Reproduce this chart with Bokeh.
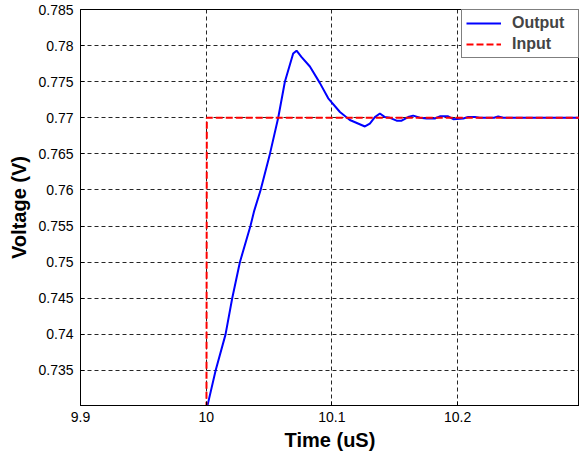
from bokeh.plotting import figure
from bokeh.models import Range1d, FixedTicker, Legend, LegendItem
from bokeh.embed import file_html
from bokeh.resources import INLINE

# Output (blue) trace
out_t = [10.0, 10.0011, 10.0075, 10.0154, 10.0207, 10.0268, 10.0352, 10.0380, 10.0433,
         10.0507, 10.0573, 10.0626, 10.0692, 10.0719, 10.0759,
         10.0825, 10.0905, 10.0971, 10.1064, 10.1143, 10.1263, 10.1302, 10.1342, 10.1382,
         10.1422, 10.1462, 10.1515, 10.1555, 10.1607, 10.1647, 10.1700, 10.1753, 10.1819,
         10.1859, 10.1925, 10.1966, 10.2045, 10.2084, 10.2138, 10.2177, 10.2290, 10.2323,
         10.2363, 10.2500, 10.3000]
out_v = [0.7293, 0.7302, 0.7350, 0.7400, 0.7450, 0.7500, 0.7550, 0.7570, 0.7600,
         0.7650, 0.7700, 0.7750, 0.7789, 0.7793, 0.7784,
         0.7771, 0.7748, 0.7727, 0.7708, 0.7697, 0.7688, 0.7692, 0.7701, 0.7706,
         0.7701, 0.7700, 0.7696, 0.7696, 0.7701, 0.7703, 0.7700, 0.7699, 0.7699,
         0.7702, 0.7702, 0.7698, 0.7699, 0.7701, 0.7701, 0.7700, 0.7700, 0.7702,
         0.7700, 0.7700, 0.7700]

# Input (red dashed) step
in_t = [9.9, 10.0, 10.0005, 10.3]
in_v = [0.70, 0.70, 0.77, 0.77]

x_ticks = [9.9, 10.0, 10.1, 10.2]
x_labels = ["9.9", "10", "10.1", "10.2"]
y_ticks = [0.735, 0.74, 0.745, 0.75, 0.755, 0.76, 0.765, 0.77, 0.775, 0.78, 0.785]
y_labels = ["0.735", "0.74", "0.745", "0.75", "0.755", "0.76", "0.765", "0.77", "0.775", "0.78", "0.785"]

p = figure(width=579, height=457, output_backend="svg", toolbar_location=None,
           x_range=Range1d(9.9, 10.297), y_range=Range1d(0.73015, 0.785))
p.min_border_left = 80
p.min_border_top = 9
p.min_border_right = 0
p.min_border_bottom = 52
p.background_fill_color = "white"
p.border_fill_color = "white"
p.outline_line_color = "black"
p.outline_line_width = 1

r_out = p.line(out_t, out_v, line_color="#0000ff", line_width=2)
r_in = p.line(in_t, in_v, line_color="#ff0000", line_width=2, line_dash="7 3")

p.xaxis.ticker = FixedTicker(ticks=x_ticks)
p.xaxis.major_label_overrides = {t: l for t, l in zip(x_ticks, x_labels)}
p.yaxis.ticker = FixedTicker(ticks=y_ticks)
p.yaxis.major_label_overrides = {t: l for t, l in zip(y_ticks, y_labels)}

for ax in (p.xaxis[0], p.yaxis[0]):
    ax.axis_line_color = "black"
    ax.major_tick_in = 4
    ax.major_tick_out = 0
    ax.major_tick_line_color = "black"
    ax.minor_tick_line_color = None
    ax.major_label_text_font = "Liberation Sans"
    ax.major_label_text_font_size = "14px"
    ax.major_label_text_color = "black"
    ax.axis_label_text_font = "Liberation Sans"
    ax.axis_label_text_font_size = "20px"
    ax.axis_label_text_font_style = "bold"
    ax.axis_label_text_color = "black"

p.xaxis.major_label_standoff = 6
p.yaxis.major_label_standoff = 7
p.xaxis.axis_label = "Time (uS)"
p.yaxis.axis_label = "Voltage (V)"
p.xaxis.axis_label_standoff = 4
p.yaxis.axis_label_standoff = 5

for g in (p.xgrid[0], p.ygrid[0]):
    g.grid_line_color = "black"
    g.grid_line_alpha = 0.85
    g.grid_line_dash = "4 3"
    g.grid_line_width = 1

legend = Legend(items=[LegendItem(label="Output", renderers=[r_out]),
                       LegendItem(label="Input", renderers=[r_in])],
                location="top_right", margin=0, padding=4, spacing=3,
                glyph_width=35, glyph_height=18, label_height=18, label_width=62,
                label_standoff=11,
                border_line_color="black", border_line_width=1,
                background_fill_alpha=1.0,
                label_text_font="Liberation Sans", label_text_font_size="16px",
                label_text_font_style="bold")
p.add_layout(legend)

open("out.html", "w").write(file_html(p, INLINE))
